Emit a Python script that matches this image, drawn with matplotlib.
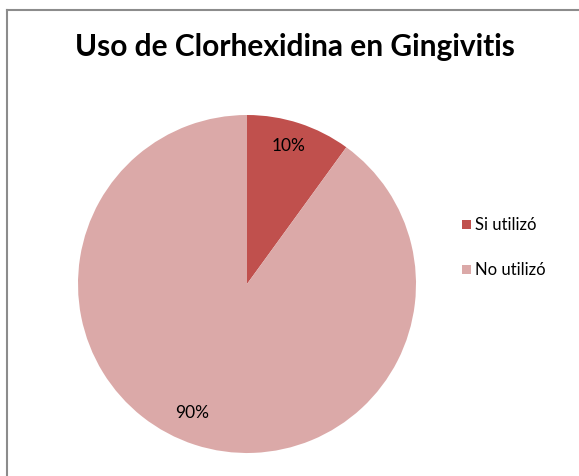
import matplotlib
matplotlib.use("Agg")
import matplotlib.pyplot as plt
from matplotlib.lines import Line2D
from matplotlib.patches import Rectangle

W, H = 579, 477

labels = ["Si utilizó", "No utilizó"]
values = [10, 90]
colors = ["#C0504D", "#DBA9A8"]

plt.rcParams["font.family"] = ["Lato", "DejaVu Sans"]

fig = plt.figure(figsize=(W / 100, H / 100), dpi=100)
ax = fig.add_axes([0, 0, 1, 1])

wedges, _, autotexts = ax.pie(
    values,
    colors=colors,
    startangle=90,
    counterclock=False,
    center=(247, H - 285),
    radius=169,
    autopct="%1.0f%%",
    pctdistance=0.84,
    wedgeprops=dict(linewidth=0),
    textprops=dict(fontsize=12.5, color="#000000"),
    frame=True,
)
ax.set_xlim(0, W)
ax.set_ylim(0, H)
ax.set_aspect("equal")
ax.axis("off")
# nudge the percentage labels to where they sit in the reference
autotexts[0].set_position((289, H - 146))
autotexts[1].set_position((192, H - 413))

ax.text(295, H - 47, "Uso de Clorhexidina en Gingivitis", ha="center", va="center",
        fontsize=21.5, fontweight="bold", color="#000000")

# legend
for i, (lab, col) in enumerate(zip(labels, colors)):
    y = H - 225 - i * 45
    ax.add_patch(Rectangle((462, y - 4.5), 9, 9, color=col, lw=0))
    ax.text(475, y, lab, ha="left", va="center", fontsize=12, color="#000000")

# chart border (left and top visible)
fig.add_artist(Line2D([6.5 / W, 6.5 / W], [0, 1 - 10.5 / H], transform=fig.transFigure,
                      color="#8C8C8C", lw=1.5))
fig.add_artist(Line2D([6.5 / W, 1], [1 - 10.5 / H, 1 - 10.5 / H], transform=fig.transFigure,
                      color="#8C8C8C", lw=1.5))

fig.savefig("out.png", dpi=100, facecolor="white")
